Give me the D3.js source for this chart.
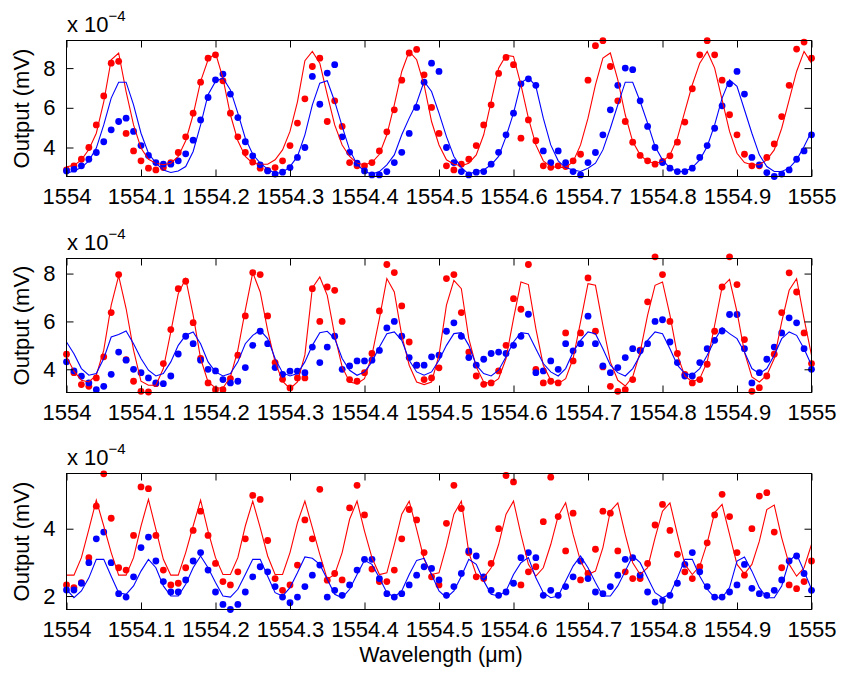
<!DOCTYPE html>
<html><head><meta charset="utf-8">
<script src="https://cdn.jsdelivr.net/npm/d3@7"></script>
<style>
body{margin:0;background:#fff}
svg text{font-family:"Liberation Sans",Arial,Helvetica,sans-serif;fill:#000}
</style>
</head><body>
<svg id="chart" width="841" height="673"></svg>
<script>
// x grid: 1554.00 ... 1555.00 nm, step 0.01
const wavelength = d3.range(101).map(i => +(1554 + i / 100).toFixed(2));
const xTicks = [1554, 1554.1, 1554.2, 1554.3, 1554.4, 1554.5, 1554.6, 1554.7, 1554.8, 1554.9, 1555];
const xTickLabels = ["1554", "1554.1", "1554.2", "1554.3", "1554.4", "1554.5", "1554.6", "1554.7", "1554.8", "1554.9", "1555"];

// ---- Panel 1 (values x 1e-4 mV) ----
const p1RedMeas = [2.87,3.08,3.41,4.0,5.14,6.6,8.25,8.34,4.71,3.83,
 3.33,2.96,2.87,2.99,3.24,3.75,4.54,5.73,7.29,8.5,
 8.67,7.36,5.73,4.54,3.75,3.26,2.96,2.85,2.99,3.33,
 4.1,5.23,6.45,8.08,8.5,5.31,6.35,5.06,3.24,3.08,
 3.08,3.24,3.83,4.79,5.9,7.39,8.76,8.94,7.66,6.02,
 4.71,3.08,2.87,3.16,3.41,4.1,5.14,6.15,7.73,8.54,
 8.17,4.47,5.39,4.34,3.08,3.0,3.08,3.04,3.33,3.66,
 7.39,9.13,9.38,8.08,6.35,5.31,4.27,3.6,3.33,3.16,
 3.3,3.58,4.27,5.28,6.96,8.67,9.38,8.67,7.39,5.65,
 4.64,3.66,3.08,3.08,3.5,4.18,5.56,7.13,8.96,9.31,8.5];
const p1BlueMeas = [2.82,2.91,3.08,3.41,3.75,4.29,4.89,5.31,5.48,4.81,
 4.10,3.6,3.24,3.16,3.16,3.33,3.68,4.37,5.39,6.52,
 7.41,7.7,6.69,5.51,4.29,3.58,3.13,2.82,2.66,2.76,
 2.99,3.5,4.0,7.58,6.18,7.75,8.17,4.54,3.76,3.21,
 2.82,2.62,2.62,2.79,3.24,3.76,4.71,6.02,7.29,8.25,
 7.83,4.0,3.24,2.79,2.62,2.76,2.79,3.16,3.76,4.64,
 5.73,7.21,7.46,7.13,3.83,3.24,3.83,3.24,2.79,2.62,
 3.24,3.75,4.64,5.9,7.13,8.0,7.92,6.35,5.06,4.0,
 3.24,2.96,2.79,2.79,2.96,3.5,4.1,4.97,6.1,7.21,
 7.83,6.69,3.5,3.13,2.74,2.54,2.66,2.87,3.41,3.83,4.64];
const p1RedFit = [3.03,3.1,3.38,3.9,4.72,6.3,8.42,8.76,6.82,5.14,
 3.97,3.41,3.21,3.13,3.21,3.55,4.34,5.65,7.33,8.42,
 8.76,7.5,5.65,4.34,3.55,3.21,3.16,3.16,3.38,3.88,
 4.81,6.3,8.37,8.84,8.25,6.66,5.14,4.13,3.55,3.21,
 3.13,3.24,3.66,4.64,6.15,7.83,8.84,8.42,7.16,5.31,
 4.13,3.38,3.16,3.08,3.21,3.63,4.64,6.32,8.0,8.64,
 8.59,7.16,5.48,4.13,3.33,3.04,2.99,2.99,3.29,4.13,
 5.48,7.16,8.5,8.76,7.41,5.65,4.3,3.63,3.29,3.21,
 3.29,3.63,4.47,5.82,7.16,8.25,8.84,8.0,6.4,4.81,
 3.71,3.24,3.13,3.13,3.38,3.88,4.97,6.4,7.83,8.84,8.25];
const p1BlueFit = [2.7,2.82,2.99,3.33,3.97,5.14,6.49,7.29,7.29,6.15,
 4.72,3.71,3.21,2.87,2.74,2.82,3.04,3.8,5.14,6.66,
 7.33,7.5,6.9,5.73,4.47,3.66,3.21,2.91,2.7,2.74,
 3.04,3.55,4.64,6.15,7.24,7.36,6.32,5.06,3.88,3.16,
 2.79,2.66,2.79,3.13,3.63,4.64,5.48,6.24,7.33,6.82,
 5.73,4.55,3.55,2.99,2.66,2.79,2.87,3.13,3.55,4.55,
 5.73,7.24,7.53,7.08,5.48,4.13,3.33,2.99,2.87,2.79,
 2.96,3.21,3.88,4.97,6.15,7.29,7.29,6.32,5.23,4.05,
 3.38,2.96,2.79,2.79,2.99,3.38,4.05,5.14,6.49,7.41,
 7.08,5.9,4.72,3.63,3.04,2.79,2.79,2.96,3.38,4.05,4.81];

// ---- Panel 2 ----
const p2RedMeas = [4.63,3.86,3.36,3.29,3.64,4.52,6.37,7.96,4.4,3.5,
 3.08,3.05,3.4,4.24,5.66,7.37,7.68,5.95,4.45,3.43,
 3.15,3.15,3.61,4.59,6.23,8.04,7.96,6.23,4.28,3.58,
 3.22,3.64,3.64,7.37,6.0,7.44,7.3,6.0,3.57,3.5,
 3.86,4.66,6.44,8.38,8.04,6.65,5.14,4.17,3.57,3.64,
 4.06,7.79,7.96,6.37,4.72,3.72,3.37,3.43,3.93,5.0,
 6.95,6.51,8.38,4.0,3.43,3.5,3.43,5.52,4.35,5.52,
 7.82,5.59,4.1,3.29,3.08,3.15,3.57,4.8,6.82,8.7,
 7.96,6.0,4.66,3.79,3.43,3.57,4.21,5.59,7.44,8.7,
 7.54,5.24,3.08,3.23,3.72,4.63,6.37,8.03,7.23,5.52,4.24];
const p2BlueMeas = [4.31,3.93,3.71,3.43,3.15,3.29,3.79,4.72,4.38,4.0,
 3.86,3.64,3.43,3.4,3.72,4.64,5.38,5.07,4.38,4.0,
 3.93,3.57,3.43,3.5,4.07,5.0,5.59,5.07,4.07,3.79,
 3.92,3.92,3.86,4.93,4.28,4.93,5.38,4.0,4.14,4.35,
 4.35,4.38,4.79,5.73,6.0,5.38,4.49,4.17,4.17,4.52,
 4.59,5.59,5.94,5.38,4.49,4.17,4.42,4.66,4.72,4.66,
 5.0,5.38,6.3,3.86,3.93,4.35,4.0,5.07,4.77,5.07,
 6.22,5.07,4.14,3.86,4.07,4.49,4.86,4.77,5.07,6.0,
 6.07,5.14,4.28,3.72,3.72,4.28,4.86,5.21,5.6,6.29,
 6.29,4.86,3.43,3.86,4.42,4.93,5.52,6.15,5.94,4.86,4.0];
const p2RedFit = [4.52,3.92,3.54,3.47,3.75,4.8,6.68,7.9,6.54,4.8,
 3.5,3.33,3.33,4.03,5.56,7.16,7.79,6.26,4.45,3.47,
 3.22,3.22,3.68,4.8,6.47,8.04,7.23,5.63,4.31,3.5,
 3.19,3.47,4.6,7.4,7.86,7.09,5.42,4.1,3.47,3.4,
 3.61,4.59,6.12,7.79,7.23,5.42,4.17,3.47,3.36,3.47,
 4.59,6.68,7.72,7.37,5.28,4.1,3.47,3.4,3.61,4.45,
 6.12,7.65,7.54,5.7,4.17,3.54,3.4,3.61,4.45,5.98,
 7.58,7.51,5.84,4.31,3.54,3.3,3.68,4.72,6.26,7.51,
 7.65,6.26,4.59,3.72,3.47,3.61,4.31,5.84,7.44,7.76,
 6.4,4.72,3.68,3.47,3.75,4.45,5.98,7.3,7.79,6.12,4.59];
const p2BlueFit = [5.14,4.65,4.03,3.75,3.82,4.45,5.35,5.45,5.6,5.07,
 4.45,3.96,3.72,3.82,4.31,5.0,5.42,5.56,5.07,4.31,
 3.89,3.72,3.82,4.31,5.07,5.42,5.63,5.28,4.45,3.86,
 3.72,3.82,4.31,5.0,5.53,5.59,5.28,4.45,3.96,3.75,
 3.89,4.31,4.93,5.49,5.56,5.21,4.38,3.89,3.75,3.89,
 4.38,5.0,5.49,5.53,5.0,4.17,3.82,3.72,3.96,4.52,
 5.14,5.53,5.49,4.86,4.24,3.89,3.72,4.03,4.72,5.21,
 5.56,5.49,4.86,4.17,3.86,3.72,4.03,4.59,5.21,5.56,
 5.49,4.86,4.17,3.82,3.75,4.03,4.59,5.21,5.73,5.49,
 5.28,4.72,4.03,3.82,4.03,4.59,5.28,5.56,5.42,4.86,4.17];

// ---- Panel 3 ----
const p3RedMeas = [2.33,2.25,2.4,3.14,4.67,5.63,4.31,2.84,2.77,3.8,
 5.24,5.19,3.8,2.77,2.33,2.38,2.84,3.95,4.52,3.8,
 2.97,2.43,2.33,2.72,3.7,4.99,4.87,3.65,2.52,2.17,
 2.33,2.92,4.26,3.7,5.17,2.47,2.67,2.48,4.62,5.29,
 4.41,2.8,2.43,2.43,2.77,3.7,4.57,4.26,3.29,2.57,
 2.33,4.16,5.29,4.6,3.29,2.57,2.52,2.97,4.0,5.58,
 5.39,2.33,2.72,2.87,4.21,5.53,4.36,3.34,4.46,2.48,
 2.67,3.39,4.52,4.46,3.34,2.72,2.52,2.52,2.97,4.11,
 4.72,3.95,3.24,2.72,2.52,2.87,3.58,4.41,5.02,4.36,
 3.29,2.62,4.0,4.97,5.07,3.9,2.84,2.33,2.22,2.43,3.04];
const p3BlueMeas = [2.18,2.18,2.38,2.99,3.7,3.9,2.99,2.07,1.97,2.57,
 3.44,3.75,3.04,2.43,2.12,2.12,2.48,3.04,3.29,2.77,
 2.12,1.75,1.6,1.75,2.12,2.57,2.87,2.72,2.28,1.97,
 1.8,1.97,2.28,2.62,2.92,1.97,2.17,2.02,2.33,2.77,
 3.09,3.09,2.52,2.07,1.97,2.07,2.33,2.62,2.87,2.82,
 2.48,2.02,2.28,2.67,3.34,3.19,2.57,2.17,2.02,2.12,
 2.38,3.14,3.29,3.14,2.02,2.17,2.02,2.28,2.57,3.04,
 2.52,2.12,2.07,2.28,2.62,3.09,3.14,2.62,2.12,1.82,
 1.87,2.02,2.38,2.94,3.29,2.72,2.28,1.97,1.97,2.12,
 2.33,2.94,2.23,2.07,2.02,2.17,2.48,3.04,3.19,2.67,2.17];
const p3RedFit = [2.62,2.62,3.14,3.98,4.85,4.08,3.29,2.62,2.62,3.14,
 4.08,4.87,3.98,3.09,2.62,2.62,3.29,4.08,4.85,3.93,
 3.14,2.64,2.64,3.14,4.08,4.82,4.03,3.19,2.64,2.64,
 3.29,4.18,4.82,4.03,3.24,2.5,2.64,3.29,4.28,4.82,
 3.93,3.14,2.64,2.69,3.53,4.43,4.82,3.98,3.09,2.64,
 2.69,3.49,4.43,4.82,3.29,2.64,2.54,2.84,3.53,4.43,
 4.82,3.83,2.94,2.59,2.84,3.53,4.38,4.77,3.83,3.04,
 2.64,2.74,3.44,4.52,4.77,3.83,2.99,2.64,2.84,3.73,
 4.52,4.77,3.83,2.94,2.64,2.89,3.58,4.48,4.72,3.83,
 2.94,2.66,2.94,3.63,4.57,4.7,3.73,2.94,2.59,2.84,3.53];
const p3BlueFit = [2.2,1.95,2.15,2.54,3.09,3.09,2.59,2.1,2.05,2.3,
 2.74,3.09,2.84,2.3,2.0,2.0,2.35,2.84,3.19,2.84,
 2.4,2.0,1.97,2.2,2.64,3.09,3.09,2.59,2.1,2.0,
 2.25,2.69,3.16,3.12,2.94,2.5,2.05,1.95,2.2,2.64,
 3.06,2.94,2.54,2.1,1.97,2.15,2.64,3.06,3.12,2.64,
 2.15,1.95,2.15,2.59,3.09,2.94,2.45,2.05,2.0,2.15,
 2.64,2.99,3.14,2.54,2.1,1.95,2.0,2.45,2.89,3.19,
 2.84,2.4,2.0,2.0,2.3,2.74,3.19,2.99,2.54,2.1,
 1.95,2.05,2.54,3.09,3.09,2.59,2.2,1.95,1.95,2.25,
 3.04,3.16,2.74,2.25,1.95,1.95,2.3,3.04,3.24,2.74,2.2];

const yDomains = [[2.54, 9.39], [3.03, 8.63], [1.6, 5.64]];
const yTickSets = [[4, 6, 8], [4, 6, 8], [2, 4]];

const panels = [
  {red: p1RedMeas, blue: p1BlueMeas, redFit: p1RedFit, blueFit: p1BlueFit, top: 40.5, bottom: 176.5},
  {red: p2RedMeas, blue: p2BlueMeas, redFit: p2RedFit, blueFit: p2BlueFit, top: 258.5, bottom: 392.5},
  {red: p3RedMeas, blue: p3BlueMeas, redFit: p3RedFit, blueFit: p3BlueFit, top: 473.5, bottom: 609.5}
];

const svg = d3.select("#chart");
const left = 66.5, right = 811.5;
const x = d3.scaleLinear().domain([1554, 1555]).range([left, right]);
const FS = 22;

panels.forEach((p, k) => {
  const y = d3.scaleLinear().domain(yDomains[k]).range([p.bottom, p.top]);
  const g = svg.append("g");

  // measured points
  g.append("g").selectAll("circle").data(p.red).join("circle")
    .attr("cx", (d, i) => x(wavelength[i])).attr("cy", d => y(d))
    .attr("r", 3.4).attr("fill", "#ff0000");
  g.append("g").selectAll("circle").data(p.blue).join("circle")
    .attr("cx", (d, i) => x(wavelength[i])).attr("cy", d => y(d))
    .attr("r", 3.4).attr("fill", "#0000ff");

  const line = d3.line().x((d, i) => x(wavelength[i])).y(d => y(d));
  g.append("path").attr("d", line(p.redFit)).attr("fill", "none")
    .attr("stroke", "#ff0000").attr("stroke-width", 1.1);
  g.append("path").attr("d", line(p.blueFit)).attr("fill", "none")
    .attr("stroke", "#0000ff").attr("stroke-width", 1.1);

  // axes (ticks inward, MATLAB box style)
  const tl = 7;
  const bottomAx = g.append("g").attr("transform", `translate(0,${p.bottom})`)
    .call(d3.axisBottom(x).tickValues(xTicks).tickFormat((d, i) => xTickLabels[i])
      .tickSizeInner(-tl).tickSizeOuter(0).tickPadding(12));
  const topAx = g.append("g").attr("transform", `translate(0,${p.top})`)
    .call(d3.axisTop(x).tickValues(xTicks).tickFormat("").tickSizeInner(-tl).tickSizeOuter(0));
  const leftAx = g.append("g").attr("transform", `translate(${left},0)`)
    .call(d3.axisLeft(y).tickValues(yTickSets[k]).tickFormat(d3.format("d"))
      .tickSizeInner(-tl).tickSizeOuter(0).tickPadding(11));
  const rightAx = g.append("g").attr("transform", `translate(${right},0)`)
    .call(d3.axisRight(y).tickValues(yTickSets[k]).tickFormat("").tickSizeInner(-tl).tickSizeOuter(0));
  [bottomAx, topAx, leftAx, rightAx].forEach(a => {
    a.select(".domain").remove();
    a.selectAll("line").attr("stroke", "#000").attr("stroke-width", 1);
    a.selectAll("text").attr("font-size", FS).attr("font-family", "Liberation Sans, Arial, sans-serif").attr("fill", "#000");
  });

  g.append("rect").attr("x", left).attr("y", p.top)
    .attr("width", right - left).attr("height", p.bottom - p.top)
    .attr("fill", "none").attr("stroke", "#000").attr("stroke-width", 1);

  // exponent label
  const ex = g.append("text").attr("x", 67).attr("y", p.top - 8.5).attr("font-size", FS);
  ex.append("tspan").text("x 10");
  ex.append("tspan").attr("font-size", 15).attr("dy", -11).text("\u22124");

  // y label
  g.append("text").attr("transform", `translate(29,${(p.top + p.bottom) / 2}) rotate(-90)`)
    .attr("text-anchor", "middle").attr("font-size", FS).text("Output (mV)");
});

svg.append("text").attr("x", (left + right) / 2 + 2).attr("y", 662)
  .attr("text-anchor", "middle").attr("font-size", 21.5).text("Wavelength (\u03bcm)");
</script>
</body></html>
